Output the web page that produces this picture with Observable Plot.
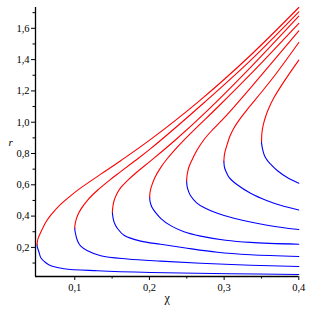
<!DOCTYPE html>
<html><head><meta charset="utf-8">
<script src="https://cdn.jsdelivr.net/npm/d3@7"></script>
<script src="https://cdn.jsdelivr.net/npm/@observablehq/plot@0.6"></script>
<style>
body{margin:0;background:#fff}
svg text{font-family:"Liberation Serif","Times New Roman",serif !important}
</style></head>
<body><div id="chart"></div>
<script>
const xDomain = [0.0474, 0.4];
const yDomain = [0.014, 1.733];
const xMajorTicks = [0.1, 0.2, 0.3, 0.4];
const xMinorTicks = [0.15, 0.25, 0.35];
const yMajorTicks = [0.2, 0.4, 0.6, 0.8, 1.0, 1.2, 1.4, 1.6];
const yMinorTicks = [0.1, 0.3, 0.5, 0.7, 0.9, 1.1, 1.3, 1.5, 1.7];

// vertex of each curve [chi, r]
const vertices = [
  [0.0496, 0.217], [0.1000, 0.323], [0.1504, 0.425], [0.2003, 0.521],
  [0.2498, 0.626], [0.2997, 0.750], [0.3501, 0.877]
];
// upper (red) branches, from vertex outwards
const upper1 = [[0.0497,0.229],[0.0508,0.256],[0.0545,0.297],[0.0612,0.361],[0.0679,0.406],[0.0813,0.476],[0.0947,0.531],[0.108,0.580],[0.1348,0.668],[0.1615,0.754],[0.2016,0.890],[0.2685,1.143],[0.3354,1.428],[0.4,1.733]];
const upper2 = [[0.1001,0.335],[0.1011,0.364],[0.1036,0.402],[0.108,0.443],[0.117,0.501],[0.1304,0.565],[0.1459,0.627],[0.1615,0.684],[0.1802,0.752],[0.2016,0.831],[0.2685,1.105],[0.3354,1.395],[0.4,1.705]];
const upper3 = [[0.1505,0.437],[0.1512,0.466],[0.1526,0.498],[0.1562,0.541],[0.1615,0.582],[0.1705,0.627],[0.1829,0.680],[0.2016,0.753],[0.2351,0.888],[0.2779,1.076],[0.3354,1.351],[0.4,1.678]];
const upper4 = [[0.2004,0.533],[0.2007,0.549],[0.2023,0.583],[0.2070,0.644],[0.2150,0.710],[0.2240,0.768],[0.2328,0.817],[0.2551,0.928],[0.2926,1.102],[0.3354,1.307],[0.4,1.632]];
const upper5 = [[0.2499,0.638],[0.2505,0.664],[0.2525,0.709],[0.2565,0.754],[0.2632,0.817],[0.2729,0.888],[0.2846,0.952],[0.2975,1.015],[0.3086,1.073],[0.3354,1.220],[0.4,1.584]];
const upper6 = [[0.2998,0.762],[0.3006,0.798],[0.3042,0.860],[0.3080,0.913],[0.3130,0.962],[0.3220,1.026],[0.3314,1.084],[0.3488,1.185],[0.3688,1.305],[0.4,1.509]];
const upper7 = [[0.3502,0.889],[0.3505,0.926],[0.3521,0.977],[0.3555,1.035],[0.3601,1.092],[0.3666,1.156],[0.3799,1.258],[0.4,1.397]];
// lower (blue) branches, from vertex outwards
const lower1 = [[0.0497,0.205],[0.0519,0.172],[0.0545,0.134],[0.0612,0.102],[0.0679,0.083],[0.0857,0.064],[0.1304,0.051],[0.2016,0.040],[0.3086,0.032],[0.4,0.027]];
const lower2 = [[0.1001,0.311],[0.1013,0.281],[0.1036,0.243],[0.108,0.208],[0.117,0.179],[0.1348,0.147],[0.1705,0.126],[0.215,0.112],[0.2685,0.099],[0.3354,0.086],[0.4,0.078]];
const lower3 = [[0.1505,0.413],[0.1515,0.383],[0.1535,0.351],[0.1575,0.319],[0.1659,0.278],[0.1883,0.240],[0.215,0.220],[0.2462,0.198],[0.2909,0.169],[0.3354,0.153],[0.4,0.142]];
const lower4 = [[0.2004,0.509],[0.201,0.489],[0.203,0.460],[0.2083,0.422],[0.215,0.386],[0.2284,0.339],[0.2462,0.300],[0.2685,0.272],[0.302,0.246],[0.3354,0.232],[0.4,0.220]];
const lower5 = [[0.2499,0.614],[0.2505,0.588],[0.2525,0.556],[0.2551,0.530],[0.2632,0.485],[0.2729,0.455],[0.2909,0.418],[0.3131,0.386],[0.3577,0.342],[0.4,0.314]];
const lower6 = [[0.2998,0.738],[0.3006,0.709],[0.3033,0.677],[0.3066,0.648],[0.3176,0.600],[0.3354,0.546],[0.3577,0.498],[0.3755,0.469],[0.4,0.439]];
const lower7 = [[0.3502,0.865],[0.3514,0.830],[0.3541,0.786],[0.3581,0.754],[0.3621,0.733],[0.3715,0.690],[0.3845,0.647],[0.4,0.610]];

const uppers = [upper1, upper2, upper3, upper4, upper5, upper6, upper7];
const lowers = [lower1, lower2, lower3, lower4, lower5, lower6, lower7];

const red = [], blue = [];
vertices.forEach((v, i) => {
  [v, ...uppers[i]].forEach(([x, y]) => red.push({x, y, c: i}));
  [v, ...lowers[i]].forEach(([x, y]) => blue.push({x, y, c: i}));
});

const fmt = d => d3.format(".1f")(d).replace(".", ",");
const serif = "'Liberation Serif', 'Times New Roman', serif";

const chart = Plot.plot({
  width: 309, height: 309,
  marginLeft: 35, marginRight: 10.7, marginTop: 7, marginBottom: 33,
  style: {fontFamily: serif, fontSize: "10.5px", background: "white", color: "black"},
  x: {domain: xDomain},
  y: {domain: yDomain},
  marks: [
    Plot.line(blue, {x: "x", y: "y", z: "c", stroke: "#0000ff", strokeWidth: 1.1, curve: "catmull-rom"}),
    Plot.line(red, {x: "x", y: "y", z: "c", stroke: "#ff0000", strokeWidth: 1.1, curve: "catmull-rom"}),
    Plot.ruleX([xDomain[0]], {stroke: "black", strokeWidth: 1.3}),
    Plot.ruleY([yDomain[0]], {stroke: "black", strokeWidth: 1.3}),
    Plot.axisX({ticks: xMajorTicks, tickFormat: fmt, tickSize: 4, tickPadding: 3, label: null, fontFamily: serif}),
    Plot.axisX({ticks: xMinorTicks, tickFormat: () => "", tickSize: 2.5, label: null}),
    Plot.axisY({ticks: yMajorTicks, tickFormat: fmt, tickSize: 4, tickPadding: 2, label: null, fontFamily: serif}),
    Plot.axisY({ticks: yMinorTicks, tickFormat: () => "", tickSize: 2.5, label: null}),
    Plot.text(["r"], {frameAnchor: "left", dx: -27, fontStyle: "italic", fontSize: 11, fontFamily: serif}),
    Plot.text(["χ"], {frameAnchor: "bottom", dy: 25, fontSize: 12, fontFamily: serif})
  ]
});
document.getElementById("chart").appendChild(chart);
</script>
</body></html>
